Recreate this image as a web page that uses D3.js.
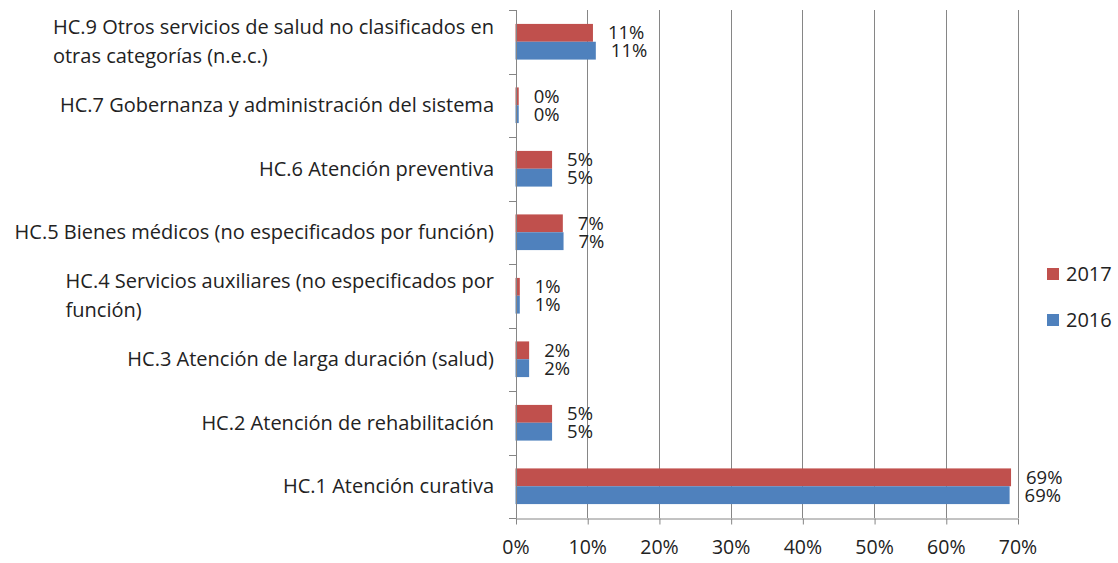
<!DOCTYPE html>
<html>
<head>
<meta charset="utf-8">
<script src="https://cdn.jsdelivr.net/npm/d3@7"></script>
<style>
  body { margin: 0; background: #fff; }
  svg { display: block; font-family: "Open Sans", "Noto Sans", sans-serif; }
</style>
</head>
<body>
<div id="chart"></div>
<script>
// categories, top to bottom
var categories = [
  "HC.9 Otros servicios de salud no clasificados en\notras categorías (n.e.c.)",
  "HC.7 Gobernanza y administración del sistema",
  "HC.6 Atención preventiva",
  "HC.5 Bienes médicos (no especificados por función)",
  "HC.4 Servicios auxiliares (no especificados por\nfunción)",
  "HC.3 Atención de larga duración (salud)",
  "HC.2 Atención de rehabilitación",
  "HC.1 Atención curativa"
];
var series = ["2017", "2016"];
var values2017 = [0.108, 0.0045, 0.051, 0.066, 0.006, 0.019, 0.051, 0.691];
var values2016 = [0.112, 0.0045, 0.051, 0.067, 0.006, 0.019, 0.051, 0.689];
var xTicks = [0, 0.1, 0.2, 0.3, 0.4, 0.5, 0.6, 0.7];

(function barChart(){
  var W = 1118, H = 563;
  var left = 515.5, right = 1017.5, top = 10, bottom = 518;
  var colors = { "2017": "#C0504D", "2016": "#4F81BD" };

  var svg = d3.select("#chart").append("svg")
    .attr("width", W).attr("height", H);

  var x = d3.scaleLinear().domain([0, 0.7]).range([left, right]);
  var y = d3.scaleBand().domain(d3.range(categories.length)).range([top, bottom]);
  var ys = d3.scaleBand().domain(series).range([0, y.bandwidth()]).paddingOuter(0.78);

  // gridlines
  svg.append("g").selectAll("line").data(xTicks.slice(1)).enter().append("line")
    .attr("x1", function(d){ return Math.round(x(d)) + 0.5; })
    .attr("x2", function(d){ return Math.round(x(d)) + 0.5; })
    .attr("y1", top).attr("y2", bottom)
    .attr("stroke", "#868686").attr("stroke-width", 1);

  // bars
  var rows = categories.map(function(c, i){
    return [{s: "2017", v: values2017[i], i: i}, {s: "2016", v: values2016[i], i: i}];
  });
  var flat = [].concat.apply([], rows);

  svg.append("g").selectAll("rect").data(flat).enter().append("rect")
    .attr("x", x(0))
    .attr("y", function(d){ return y(d.i) + ys(d.s); })
    .attr("width", function(d){ return x(d.v) - x(0); })
    .attr("height", ys.bandwidth())
    .attr("fill", function(d){ return colors[d.s]; });

  // data labels
  var fmt = d3.format(".0%");
  svg.append("g").selectAll("text").data(flat).enter().append("text")
    .attr("x", function(d){ return x(d.v) + 15; })
    .attr("y", function(d){ return y(d.i) + ys(d.s) + ys.bandwidth() / 2; })
    .attr("dy", "0.35em")
    .attr("font-size", "18.5px")
    .attr("fill", "#222")
    .text(function(d){ return fmt(d.v); });

  // x axis
  var xAxis = svg.append("g")
    .attr("transform", "translate(0," + (bottom + 0.5) + ")")
    .call(d3.axisBottom(x).tickValues(xTicks).tickFormat(d3.format(".0%"))
      .tickSizeInner(6).tickSizeOuter(0).tickPadding(16));
  xAxis.select(".domain").attr("stroke", "#868686");
  xAxis.selectAll(".tick line").attr("stroke", "#868686")
    .attr("transform", function(){ return "translate(0.5,0)"; });
  xAxis.selectAll(".tick text").attr("font-size", "19.5px").attr("fill", "#222")
    .attr("font-family", "Open Sans, Noto Sans, sans-serif");

  // y axis line and boundary ticks
  svg.append("line")
    .attr("x1", Math.round(left) + 0.5).attr("x2", Math.round(left) + 0.5)
    .attr("y1", top).attr("y2", bottom)
    .attr("stroke", "#868686");
  var bounds = d3.range(categories.length + 1).map(function(i){ return top + i * y.step(); });
  svg.append("g").selectAll("line").data(bounds).enter().append("line")
    .attr("x1", Math.round(left) - 7).attr("x2", Math.round(left) + 0.5)
    .attr("y1", function(d){ return Math.round(d) + 0.5; })
    .attr("y2", function(d){ return Math.round(d) + 0.5; })
    .attr("stroke", "#868686");

  // category labels
  var labelRight = 494, lineH = 29;
  categories.forEach(function(c, i){
    var lines = c.split("\n");
    var g = svg.append("g");
    var cy = y(i) + y.bandwidth() / 2;
    var texts = lines.map(function(line, k){
      return g.append("text")
        .attr("y", cy + (k - (lines.length - 1) / 2) * lineH)
        .attr("dy", "0.35em")
        .attr("font-size", "20px")
        .attr("fill", "#222")
        .text(line);
    });
    var maxW = d3.max(texts, function(t){ return t.node().getComputedTextLength(); });
    texts.forEach(function(t){ t.attr("x", labelRight - maxW); });
  });

  // legend
  var legend = svg.append("g").selectAll("g").data(series).enter().append("g")
    .attr("transform", function(d, k){ return "translate(1047," + (274 + k * 46) + ")"; });
  legend.append("rect")
    .attr("x", 0).attr("y", -6).attr("width", 12).attr("height", 12)
    .attr("fill", function(d){ return colors[d]; });
  legend.append("text")
    .attr("x", 19).attr("dy", "0.35em")
    .attr("font-size", "20px").attr("fill", "#222")
    .text(function(d){ return d; });
}());
</script>
</body>
</html>
